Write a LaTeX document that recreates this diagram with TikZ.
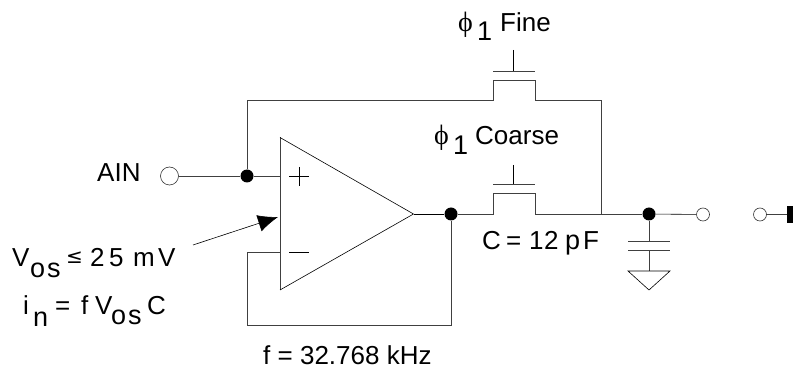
\documentclass[tikz,border=0pt]{standalone}
\usepackage{fontspec}
\setmainfont{Liberation Sans}
\newfontfamily\phifont{Liberation Serif}
\newfontfamily\symfont{DejaVu Sans}
\usetikzlibrary{arrows.meta}
\tikzset{
  wire/.style={draw=black!75,line width=0.9pt},
  thin wire/.style={draw=black,line width=0.6pt},
  dotn/.style={circle,fill=black,inner sep=0pt,minimum size=13pt},
  port/.style={circle,draw=black!80,fill=white,line width=0.6pt,inner sep=0pt,minimum size=#1},
  lbl/.style={inner sep=0pt,text=black,font=\fontsize{26}{28}\selectfont,anchor=base west},
  sub/.style={inner sep=0pt,text=black,font=\fontsize{27}{29}\selectfont,anchor=base west},
  phi/.style={inner sep=0pt,text=black,font=\phifont\fontsize{28}{30}\selectfont,anchor=base west},
}
\begin{document}
\begin{tikzpicture}[x=1pt,y=-1pt]
\useasboundingbox (0,0) rectangle (793,371);
% named points
\node[port=18pt] (ain) at (169.5,176) {};
\node[dotn] (d1) at (247,176) {};
\coordinate (plus) at (280,176);
\coordinate (minus) at (280,252);
\coordinate (apex) at (413.5,214);
\node[dotn] (d2) at (451,214) {};
\node[dotn] (d3) at (649,214) {};
\node[port=13pt] (o1) at (703,214.5) {};
\node[port=13pt] (o2) at (760,214.5) {};
\coordinate (tap) at (601,214);
% op amp
\draw[wire] (280,137.5) -- (280,290);
\draw[thin wire,line join=miter] (280,137.5) -- (apex) -- (280,290);
\draw[thin wire] (289,176) -- (309,176) (299,167) -- (299,186);
\draw[thin wire] (289,252) -- (309,252);
% input
\draw[wire] (ain) -- (d1);
\draw[wire] (d1) -- (plus);
% fine switch
\draw[wire] (d1) -- (247,100.5) -- (493,100.5) -- (493,80) -- (535,80) -- (535,100.5) -- (601,100.5) -- (tap);
\draw[wire] (493,71) -- (535,71);
\draw[thin wire] (513.5,50) -- (513.5,71);
% output and coarse switch
\draw[thin wire] (apex) -- (d2);
\draw[wire] (d2) -- (493,214) -- (493,193.5) -- (535,193.5) -- (535,214) -- (d3);
\draw[wire] (493,184.5) -- (535,184.5);
\draw[thin wire] (513.5,165) -- (513.5,184.5);
\draw[thin wire] (d3) -- (o1);
% feedback
\draw[wire] (d2) -- (451,325) -- (247,325) -- (247,252) -- (minus);
% cap
\draw[wire] (d3) -- (649,241);
\draw[wire] (628,241) -- (670,241) (628,250.5) -- (670,250.5);
\draw[wire] (649,250.5) -- (649,271);
\draw[thin wire,line join=miter] (628,271) -- (670,271) -- (649,290) -- cycle;
% right stub
\draw[wire] (o2) -- (787,214.5);
\fill[black] (787,206) -- (793,206) -- (793,223) -- (787,223) -- cycle;
% arrow
\coordinate (atail) at (193,245);
\coordinate (ahead) at (278,217);
\draw[thin wire,-{Latex[length=20pt,width=17pt]}] (atail) -- (ahead);
% labels
\node[phi] at (458,32) {\symbol{"03D5}};
\node[sub] at (477,41) {1};
\node[lbl] at (500,32) {Fine};
\node[phi] at (434,145) {\symbol{"03D5}};
\node[sub] at (453,155) {1};
\node[lbl] at (475,145) {Coarse};
\node[lbl] at (97,182) {AIN};
\node[lbl] at (12,267) {V};
\node[sub] at (30,278) {o};
\node[sub] at (47,278) {s};
\node[lbl] at (66,264) {\symfont\fontsize{20}{22}\selectfont≤};
\node[lbl] at (90,267) {2};
\node[lbl] at (109,267) {5};
\node[lbl] at (133,267) {m};
\node[lbl] at (158,267) {V};
\node[lbl] at (23,315) {i};
\node[sub] at (33,327) {n};
\node[lbl] at (55,315) {=};
\node[lbl] at (81,315) {f};
\node[lbl] at (95,315) {V};
\node[sub] at (111,325) {o};
\node[sub] at (128,325) {s};
\node[lbl] at (147,315) {C};
\node[lbl] at (482,250) {C};
\node[lbl] at (506,250) {=};
\node[lbl] at (529,250) {1};
\node[lbl] at (544,250) {2};
\node[sub] at (565,250) {p};
\node[lbl] at (583,250) {F};
\node[lbl] at (263,365) {f = 32.768 kHz};
\end{tikzpicture}
\end{document}
